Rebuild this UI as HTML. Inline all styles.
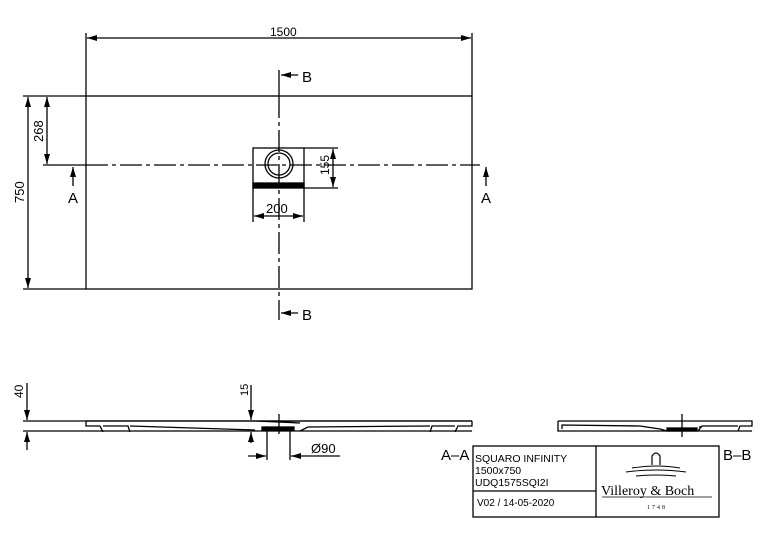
<!DOCTYPE html>
<html><head><style>body{margin:0;background:#fff}svg{display:block}text{font-family:"Liberation Sans",sans-serif;fill:#000}</style></head>
<body>
<svg width="765" height="540" viewBox="0 0 765 540" xmlns="http://www.w3.org/2000/svg">
<defs>
<marker id="a" viewBox="0 0 10 6" refX="10" refY="3" markerWidth="10" markerHeight="6" orient="auto-start-reverse" markerUnits="userSpaceOnUse"><path d="M0,0L10,3L0,6z" fill="#000"/></marker>
</defs>
<g stroke="#000" fill="none" stroke-width="1.3">
<!-- plan -->
<rect x="86" y="96" width="386" height="193"/>
<line x1="86" y1="33" x2="86" y2="96"/><line x1="472" y1="33" x2="472" y2="96"/>
<line x1="87" y1="38" x2="471" y2="38" marker-start="url(#a)" marker-end="url(#a)"/>
<line x1="23" y1="96" x2="86" y2="96"/><line x1="23" y1="289" x2="86" y2="289"/>
<line x1="28" y1="97" x2="28" y2="288" marker-start="url(#a)" marker-end="url(#a)"/>
<line x1="47" y1="97" x2="47" y2="164" marker-start="url(#a)" marker-end="url(#a)"/>
<line x1="43" y1="165" x2="86" y2="165"/>
<line x1="86" y1="165" x2="480" y2="165" stroke-dasharray="22,4,4,4"/>
<line x1="279" y1="70" x2="279" y2="96"/>
<line x1="279" y1="96" x2="279" y2="300" stroke-dasharray="22,4,4,4"/>
<line x1="279" y1="300" x2="279" y2="320"/>
<line x1="298" y1="75" x2="281" y2="75" marker-end="url(#a)"/>
<line x1="298" y1="313" x2="281" y2="313" marker-end="url(#a)"/>
<line x1="73" y1="186" x2="73" y2="167" marker-end="url(#a)"/>
<line x1="486" y1="186" x2="486" y2="167" marker-end="url(#a)"/>
<rect x="253" y="148" width="51" height="40"/>
<rect x="253" y="183" width="51" height="4" fill="#000"/>
<circle cx="279" cy="164" r="14"/><circle cx="279" cy="164" r="11"/>
<line x1="304" y1="148" x2="338" y2="148"/><line x1="304" y1="188" x2="338" y2="188"/>
<line x1="333" y1="149" x2="333" y2="187" marker-start="url(#a)" marker-end="url(#a)"/>
<line x1="253" y1="188" x2="253" y2="222"/><line x1="304" y1="188" x2="304" y2="222"/>
<line x1="254" y1="216" x2="303" y2="216" marker-start="url(#a)" marker-end="url(#a)"/>
<!-- section A-A -->
<line x1="23" y1="421" x2="472" y2="421"/><line x1="23" y1="431" x2="472" y2="431"/>
<line x1="27" y1="383" x2="27" y2="420" marker-end="url(#a)"/>
<line x1="27" y1="450" x2="27" y2="432" marker-end="url(#a)"/>
<path d="M86,421 L86,426 L100,426 L103,432 M103,426 L128,426 L130,432 M130,426 L255,430 M255,421 L300,423 L270,421 M86,421 L472,421 M472,421 L472,426 L458,426 L455,432 M455,426 L432,426 L430,432 M430,426 L308,427 L300,431"/>
<rect x="262" y="427" width="32" height="3" fill="#000"/>
<line x1="251" y1="385" x2="251" y2="420" marker-end="url(#a)"/>
<line x1="251" y1="443" x2="251" y2="432" marker-end="url(#a)"/>
<line x1="279" y1="414" x2="279" y2="434"/>
<line x1="267" y1="431" x2="267" y2="460"/><line x1="290" y1="431" x2="290" y2="460"/>
<line x1="248" y1="456" x2="266" y2="456" marker-end="url(#a)"/>
<line x1="340" y1="456" x2="291" y2="456" marker-end="url(#a)"/>
<!-- section B-B -->
<path d="M558,421 L752,421 L752,426 L740,426 L738,431 M738,426 L702,426 L698,431 M558,421 L558,431 L752,431 M562,429 L562,425 L640,426 L660,429 L667,431 M700,429 L700,426"/>
<rect x="667" y="428" width="30" height="3" fill="#000"/>
<line x1="682" y1="414" x2="682" y2="437"/>
<!-- title block -->
<rect x="473" y="446" width="246" height="71"/>
<line x1="596" y1="446" x2="596" y2="517"/>
<line x1="473" y1="491" x2="596" y2="491"/>
<path d="M652,465 L652,456 Q656,450 660,456 L660,465" stroke-width="1.2"/>
<path d="M632,468 Q656,464 680,468 M626,472 Q656,468 686,472 M636,476 Q656,474 676,476" stroke-width="0.9"/>
<line x1="602" y1="497" x2="712" y2="497" stroke-width="0.8"/>
</g>
<g font-size="13">
<text x="270" y="36" font-size="12">1500</text>
<text x="302" y="82" font-size="15">B</text>
<text x="302" y="320" font-size="15">B</text>
<text x="68" y="203" font-size="15">A</text>
<text x="481" y="203" font-size="15">A</text>
<text x="266" y="213">200</text>
<text transform="translate(24,203) rotate(-90)" font-size="13">750</text>
<text transform="translate(43,142) rotate(-90)" font-size="13">268</text>
<text transform="translate(329,175) rotate(-90)" font-size="12">155</text>
<text transform="translate(23,398) rotate(-90)" font-size="12">40</text>
<text transform="translate(248,396) rotate(-90)" font-size="11">15</text>
<text x="311" y="453">Ø90</text>
<text x="441" y="460" font-size="15">A–A</text>
<text x="723" y="460" font-size="15">B–B</text>
<text x="475" y="462" font-size="10.5">SQUARO INFINITY</text>
<text x="475" y="474" font-size="10.5">1500x750</text>
<text x="475" y="486" font-size="10.5">UDQ1575SQI2I</text>
<text x="477" y="506" font-size="10">V02 / 14-05-2020</text>
<text x="601" y="495" font-size="14" style="font-family:'Liberation Serif',serif">Villeroy &amp; Boch</text>
<text x="647" y="509" font-size="6" style="font-family:'Liberation Serif',serif" letter-spacing="2">1748</text>
</g>
</svg>
</body></html>
